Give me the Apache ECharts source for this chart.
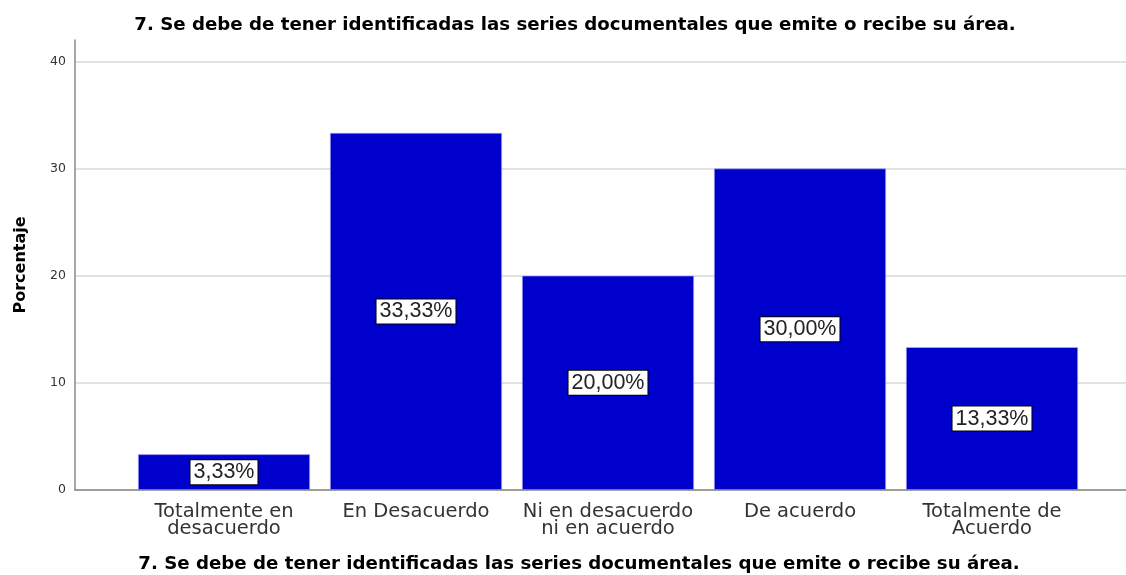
<!DOCTYPE html>
<html>
<head>
<meta charset="utf-8">
<script src="https://cdn.jsdelivr.net/npm/echarts@6/dist/echarts.min.js"></script>
<style>
  html, body { margin: 0; padding: 0; background: #fff; }
  #chart { width: 1126px; height: 575px; }
</style>
</head>
<body>
<div id="chart"></div>
<script>
// Survey item 7: percentage of answers per response option
const chartTitle = '7. Se debe de tener identificadas las series documentales que emite o recibe su área.';
const categories = ['Totalmente en\ndesacuerdo', 'En Desacuerdo', 'Ni en desacuerdo\nni en acuerdo', 'De acuerdo', 'Totalmente de\nAcuerdo'];
const percentages = [3.33, 33.33, 20.00, 30.00, 13.33];
const yTicks = [0, 10, 20, 30, 40];

const SANS = '"DejaVu Sans", Verdana, sans-serif';
const ARIAL = '"Liberation Sans", Arial, sans-serif';
const TOP = 40, BOTTOM = 85;

const chart = echarts.init(document.getElementById('chart'), null, { renderer: 'canvas' });

chart.setOption({
  animation: false,
  backgroundColor: '#ffffff',
  title: [
    {
      text: chartTitle,
      left: 570, top: 11, textAlign: 'center',
      textStyle: { fontFamily: SANS, fontSize: 18.2, fontWeight: 'bold', color: '#000' }
    },
    {
      text: chartTitle,
      left: 574, top: 550, textAlign: 'center',
      textStyle: { fontFamily: SANS, fontSize: 18.2, fontWeight: 'bold', color: '#000' }
    }
  ],
  grid: [
    // frame: y axis, gridlines, baseline
    { left: 75, right: 0, top: TOP, bottom: BOTTOM },
    // bars
    { left: 128, right: 38, top: TOP, bottom: BOTTOM }
  ],
  xAxis: [
    {
      gridIndex: 0, type: 'category', data: [''],
      axisLine: { show: true, lineStyle: { color: '#7f7f7f', width: 1.5 } },
      axisTick: { show: false }, axisLabel: { show: false }, splitLine: { show: false }
    },
    {
      gridIndex: 1, type: 'category', data: categories,
      axisLine: { show: false }, axisTick: { show: false },
      axisLabel: {
        interval: 0, margin: 13,
        fontFamily: SANS, fontSize: 19.5, lineHeight: 17, color: '#333'
      }
    }
  ],
  yAxis: [
    {
      gridIndex: 0, type: 'value', min: 0, max: 42, interval: 10,
      name: 'Porcentaje', nameLocation: 'middle', nameGap: 46, nameRotate: 90,
      nameTextStyle: { fontFamily: SANS, fontSize: 16, fontWeight: 'bold', color: '#000' },
      axisLine: { show: true, lineStyle: { color: '#8a8a8a', width: 1.5 } },
      axisTick: { show: false },
      axisLabel: {
        showMaxLabel: false, margin: 9,
        fontFamily: SANS, fontSize: 12.5, color: '#333',
        formatter: v => (yTicks.includes(v) ? String(v) : '')
      },
      splitLine: { show: true, showMinLine: false, showMaxLine: false, lineStyle: { color: '#d9d9d9', width: 1.5 } }
    },
    {
      gridIndex: 1, type: 'value', min: 0, max: 42, interval: 10, show: false,
      splitLine: { show: false }
    }
  ],
  series: [
    {
      type: 'bar',
      xAxisIndex: 1, yAxisIndex: 1,
      data: percentages,
      barCategoryGap: 20,
      itemStyle: { color: '#0000cc', borderColor: '#b8b8f0', borderWidth: 0.6 },
      label: {
        show: true, position: 'inside',
        formatter: p => p.value.toFixed(2).replace('.', ',') + '%',
        fontFamily: ARIAL, fontSize: 21.5, color: '#222',
        backgroundColor: '#ffffff', borderColor: '#000', borderWidth: 1,
        padding: [2, 3, 0, 3]
      }
    }
  ]
});
</script>
</body>
</html>
